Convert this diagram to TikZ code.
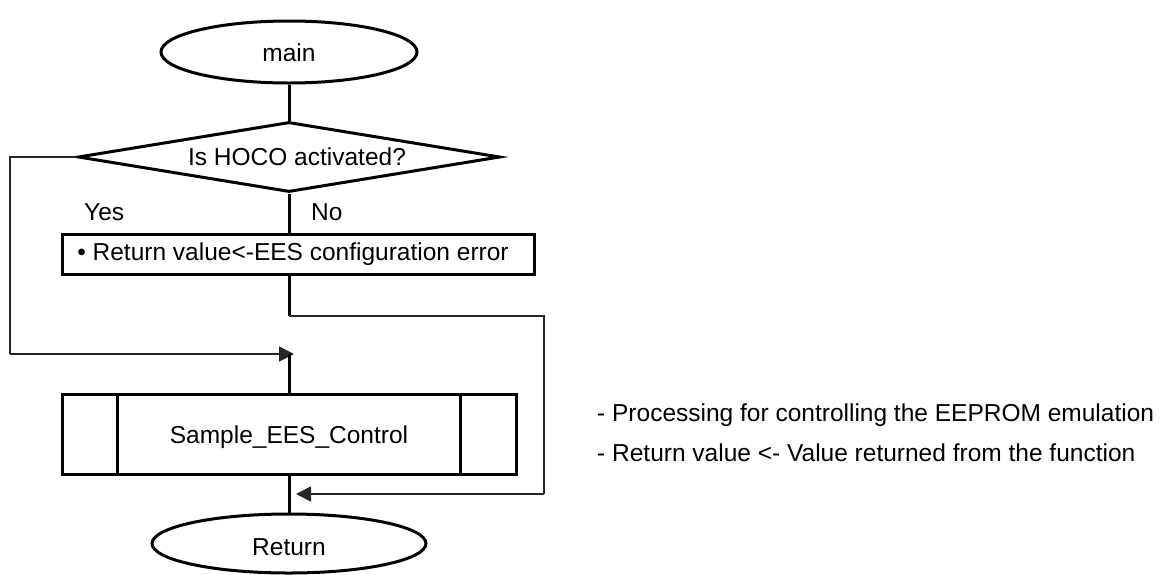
\documentclass[tikz,border=0pt]{standalone}
\usepackage{fontspec}
\setmainfont{Liberation Sans}
\usetikzlibrary{shapes.geometric,arrows.meta,calc}
\tikzset{
  shp/.style={draw=black, line width=3pt, inner sep=0pt},
  term/.style={shp, ellipse},
  procbox/.style={shp, rectangle},
  trunk/.style={draw=black, line width=3pt},
  loopline/.style={draw=black!85, line width=1.8pt},
  arr/.style={-{Triangle[length=15pt,width=15pt]}},
  txt/.style={inner sep=0pt, font=\fontsize{24.5pt}{29pt}\selectfont},
}
\begin{document}
\begin{tikzpicture}[x=1pt,y=-1pt]
\useasboundingbox (0,0) rectangle (1160,574);
% nodes
\node[term, minimum width=256pt, minimum height=62pt] (main) at (289,52) {};
\node[txt] (maintxt) at (289,53) {main};
\node[shp, diamond, minimum width=422pt, minimum height=70pt] (dia) at (289,157) {};
\node[txt] (diatxt) at (297,157) {Is HOCO activated?};
\node[txt, anchor=west] (yes) at (84,212) {Yes};
\node[txt, anchor=west] (no) at (311,212) {No};
\node[procbox, minimum width=472pt, minimum height=40pt] (rect) at (298,254) {};
\node[txt] (recttxt) at (293,254) {• Return value<-EES configuration error};
\node[procbox, minimum width=454pt, minimum height=80pt] (sub) at (289,434) {};
\node[txt] (subtxt) at (289,437) {Sample\_EES\_Control};
\node[term, minimum width=274pt, minimum height=59pt] (ret) at (289,543.5) {};
\node[txt] (rettxt) at (289,547) {Return};
\node[txt, anchor=west] (note1) at (597,415) {- Processing for controlling the EEPROM emulation};
\node[txt, anchor=west] (note2) at (597,453) {- Return value <- Value returned from the function};
% subroutine inner bars
\draw[line width=3pt] ($(sub.north west)+(57,0)$) coordinate (i1) -- (i1 |- sub.south);
\draw[line width=3pt] ($(sub.north east)+(-57,0)$) coordinate (i2) -- (i2 |- sub.south);
% coordinates
\coordinate (j1) at (289,354);
\coordinate (j1t) at (294,354);
\coordinate (j2) at (289,316);
\coordinate (j3t) at (296,494);
% connectors
\draw[trunk] (main.south) -- (dia.north);
\draw[trunk] (dia.south) -- (dia.south |- rect.north);
\draw[trunk] (dia.south |- rect.south) -- (j2);
\draw[loopline] (j2) -- (544,316) -- (544,494) coordinate (rc);
\draw[loopline, arr] (rc) -- (j3t);
\draw[loopline] (dia.west) -- (10,157) -- (10,354) coordinate (lc);
\draw[loopline, arr] (lc) -- (j1t);
\draw[trunk] (j1) -- (j1 |- sub.north);
\draw[trunk] (j1 |- sub.south) -- (ret.north);
\end{tikzpicture}
\end{document}
